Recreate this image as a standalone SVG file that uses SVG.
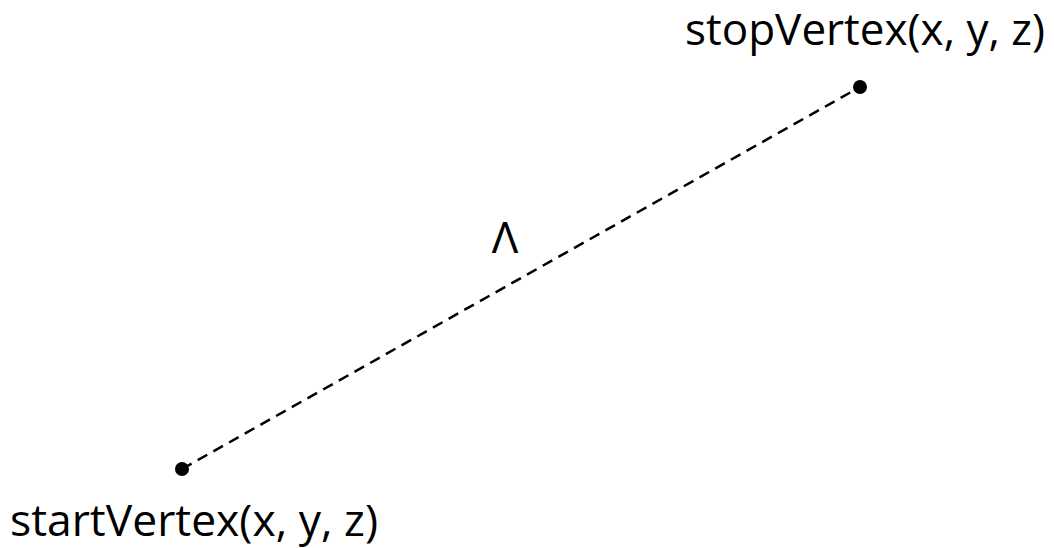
<svg xmlns="http://www.w3.org/2000/svg" width="1054" height="548" viewBox="0 0 1054 548">
<style>
text{font-family:"Open Sans","Noto Sans",sans-serif;font-size:44px;fill:#000}
.dot{fill:#000}
</style>
<rect width="1054" height="548" fill="#fff"/>
<g id="connectors">
<line x1="182" y1="469" x2="860" y2="87" stroke="#000" stroke-width="2.5" stroke-dasharray="11,7"/>
<text x="505" y="253" text-anchor="middle">Λ</text>
</g>
<g id="start">
<circle class="dot" cx="182" cy="469" r="7"/>
<text x="10" y="536" textLength="368" lengthAdjust="spacingAndGlyphs">startVertex(x, y, z)</text>
</g>
<g id="stop">
<circle class="dot" cx="860" cy="87" r="7"/>
<text x="685" y="45" textLength="360" lengthAdjust="spacingAndGlyphs">stopVertex(x, y, z)</text>
</g>
</svg>
